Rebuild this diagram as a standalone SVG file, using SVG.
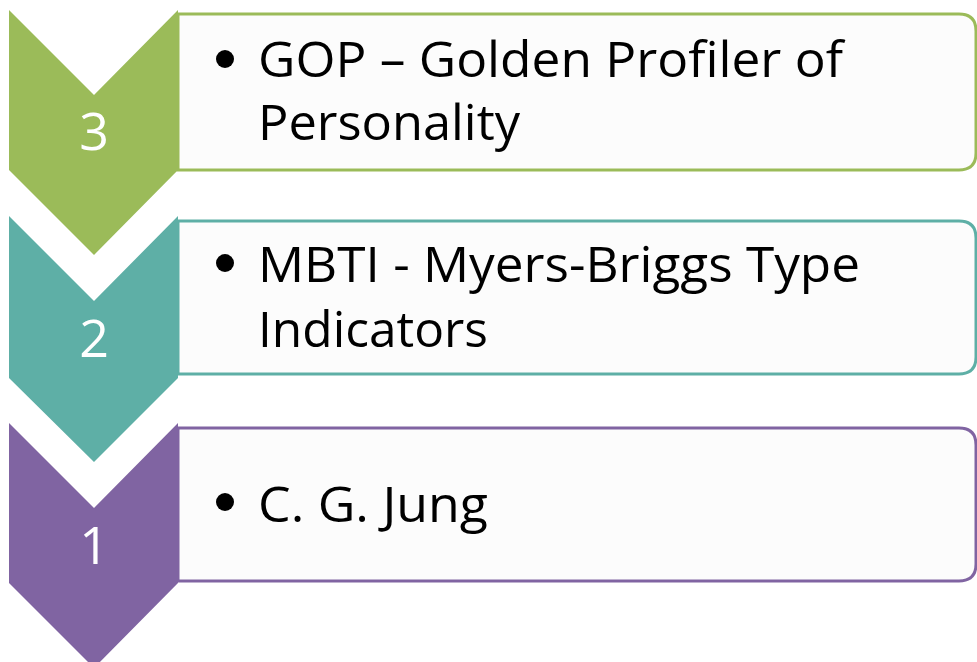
<svg xmlns="http://www.w3.org/2000/svg" width="977" height="662" viewBox="0 0 977 662">
<style>
.box{fill:#fcfcfc;stroke-width:3}
.num{font-family:"Open Sans","Liberation Sans",sans-serif;font-size:52px;fill:#ffffff;text-anchor:middle}
.t{font-family:"Open Sans","Liberation Sans",sans-serif;fill:#000000;font-size:50px}
</style>
<rect width="977" height="662" fill="#ffffff"/>
<g id="step3">
<path class="box" d="M178,14 H959 Q976,14 976,31 V153 Q976,170 959,170 H178 Z" stroke="#9bbb59"/>
<polygon points="9,10 94,95 178,10 178,170 94,255 9,170" fill="#9bbb59"/>
<text class="num" x="94" y="150">3</text>
<circle cx="225" cy="59" r="9" fill="#000"/>
<text class="t" x="258" y="77" textLength="585" lengthAdjust="spacingAndGlyphs">GOP – Golden Profiler of</text>
<text class="t" x="258" y="140" textLength="262" lengthAdjust="spacingAndGlyphs">Personality</text>
</g>
<g id="step2">
<path class="box" d="M178,221 H959 Q976,221 976,238 V357 Q976,374 959,374 H178 Z" stroke="#5eafa6"/>
<polygon points="9,216 94,301 178,216 178,378 94,462 9,378" fill="#5eafa6"/>
<text class="num" x="94" y="357">2</text>
<circle cx="225" cy="263" r="9" fill="#000"/>
<text class="t" x="258" y="282" textLength="602" lengthAdjust="spacingAndGlyphs">MBTI - Myers-Briggs Type</text>
<text class="t" x="258" y="347" textLength="230" lengthAdjust="spacingAndGlyphs">Indicators</text>
</g>
<g id="step1">
<path class="box" d="M178,428 H959 Q976,428 976,445 V564 Q976,581 959,581 H178 Z" stroke="#8064a2"/>
<polygon points="9,423 94,508 178,423 178,583 94,668 9,583" fill="#8064a2"/>
<text class="num" x="94" y="564">1</text>
<circle cx="225" cy="502" r="9" fill="#000"/>
<text class="t" x="258" y="522" textLength="230" lengthAdjust="spacingAndGlyphs">C. G. Jung</text>
</g>
<g id="connectors"></g>
</svg>
